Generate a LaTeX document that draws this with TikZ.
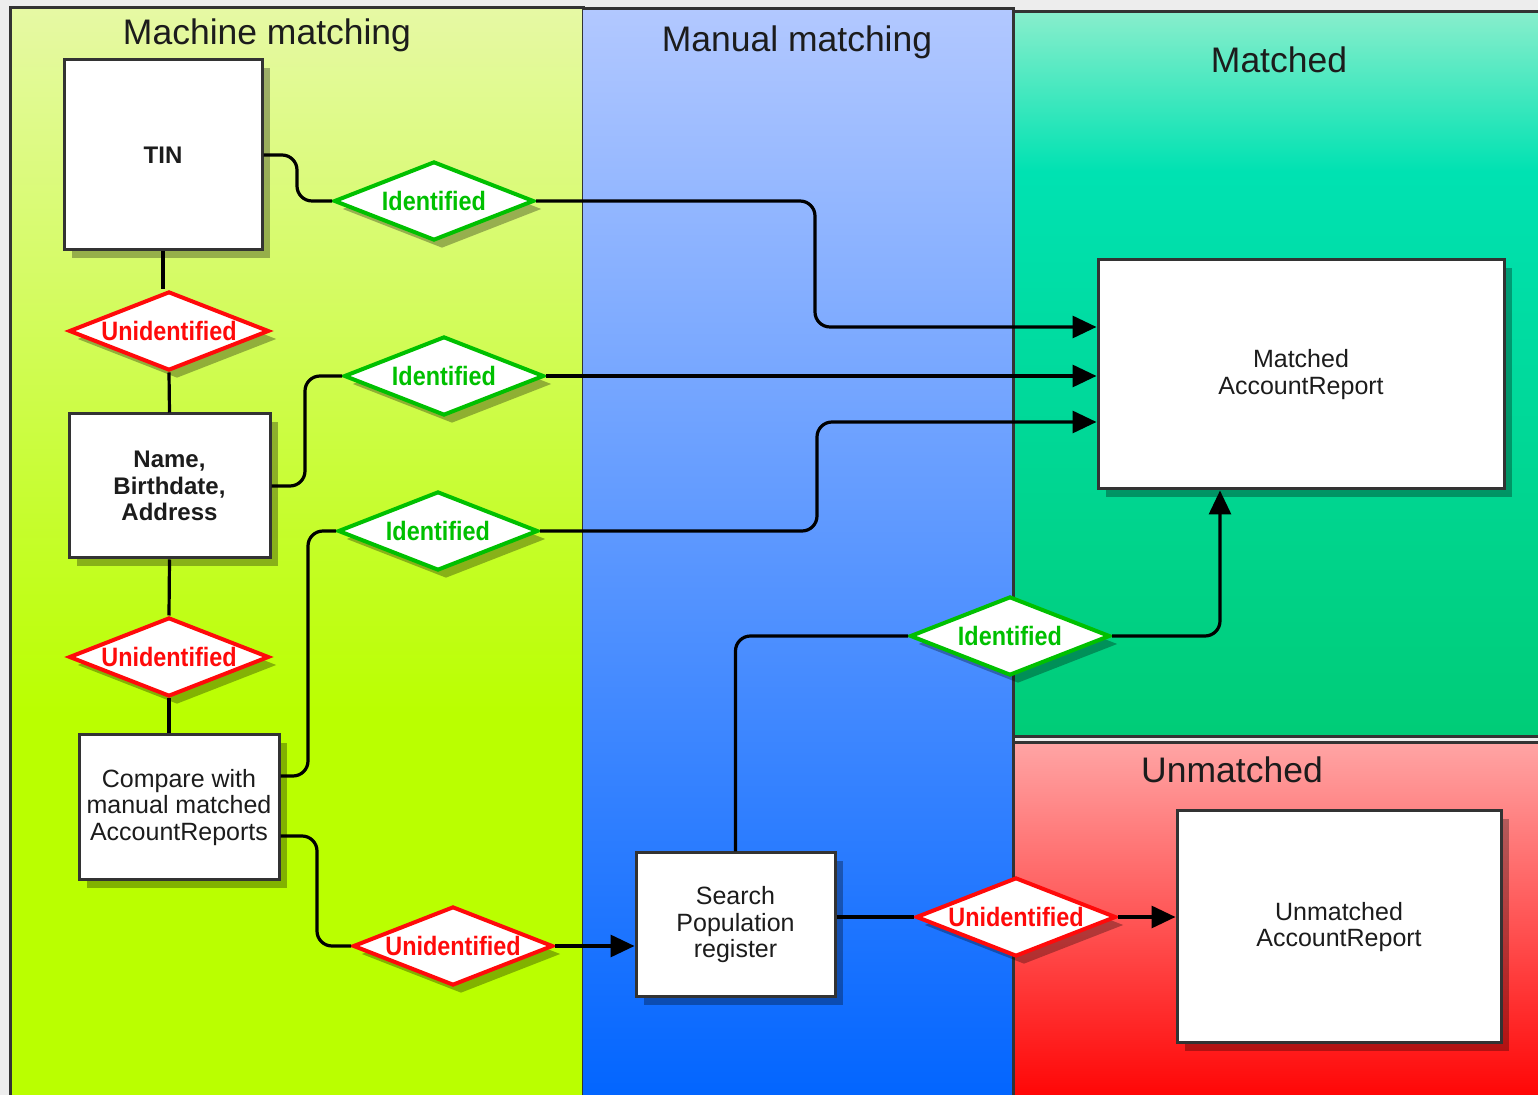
\documentclass[tikz,border=0pt]{standalone}
\usepackage{fontspec}
\setmainfont{Liberation Sans}
\newfontfamily\dfont[FakeStretch=0.88]{Liberation Sans}
\usetikzlibrary{shapes.geometric,arrows.meta,shadows}

\definecolor{mtop}{HTML}{E6F9A4}
\definecolor{mbot}{HTML}{BAFF00}
\definecolor{btop}{HTML}{B2C8FF}
\definecolor{bbot}{HTML}{0064FF}
\definecolor{gtop}{HTML}{88EECC}
\definecolor{gmid}{HTML}{00E2B2}
\definecolor{gbot}{HTML}{00CC77}
\definecolor{rtop}{HTML}{FFA4A4}
\definecolor{rbot}{HTML}{FF0000}
\definecolor{laneline}{HTML}{333333}
\definecolor{boxline}{HTML}{333333}
\definecolor{txt}{HTML}{1C1C1C}
\definecolor{okgreen}{HTML}{00C000}
\definecolor{nored}{HTML}{FF0A0A}
\definecolor{bgout}{HTML}{EDEDED}

\pgfdeclareverticalshading{machsh}{100bp}{color(0bp)=(mbot); color(25bp)=(mbot); color(43bp)=(mbot); color(75bp)=(mtop); color(100bp)=(mtop)}
\pgfdeclareverticalshading{mansh}{100bp}{color(0bp)=(bbot); color(25bp)=(bbot); color(75bp)=(btop); color(100bp)=(btop)}
\pgfdeclareverticalshading{matsh}{100bp}{color(0bp)=(gbot); color(25bp)=(gbot); color(64bp)=(gmid); color(75bp)=(gtop); color(100bp)=(gtop)}
\pgfdeclareverticalshading{unmsh}{100bp}{color(0bp)=(rbot); color(25bp)=(rbot); color(75bp)=(rtop); color(100bp)=(rtop)}

\tikzset{
  lane/.style={draw=laneline, line width=1.5pt},
  title/.style={font=\fontsize{17.75pt}{20pt}\selectfont, text=txt, inner sep=0pt},
  box/.style={rectangle, draw=boxline, line width=1.5pt, fill=white, inner sep=2pt,
    align=center, text=txt, font=\fontsize{12.5pt}{13.25pt}\selectfont,
    drop shadow={shadow xshift=4pt, shadow yshift=-4pt, fill=black, opacity=0.3}},
  boldbox/.style={box, font=\bfseries\fontsize{12pt}{13.25pt}\selectfont},
  dia/.style={diamond, aspect=2.5, line width=2pt, fill=white, inner sep=0pt,
    minimum width=100pt, minimum height=39.5pt,
    font=\dfont\bfseries\fontsize{13.3pt}{14pt}\selectfont,
    drop shadow={shadow xshift=4pt, shadow yshift=-4pt, fill=black, opacity=0.3}},
  yes/.style={dia, draw=okgreen, text=okgreen},
  no/.style={dia, draw=nored, text=nored},
  conn/.style={draw=black, line width=1.6pt, rounded corners=7.5pt},
  arr/.style={conn, -{Triangle[length=12pt,width=11pt]}}
}

\begin{document}
\begin{tikzpicture}[x=0.5pt, y=-0.5pt]
\useasboundingbox (0,0) rectangle (1538,1095);
\fill[bgout] (0,0) rectangle (1538,1095);

% lanes
\fill[shading=machsh] (10,8) rectangle (583,1110);
\draw[lane] (10,1110) -- (10,8) -- (583,8) -- (583,1110);
\fill[shading=mansh] (583,9) rectangle (1013,1110);
\draw[lane] (583,9) -- (1013,9) -- (1013,1110);
\fill[shading=matsh] (1013,12) rectangle (1550,737);
\draw[lane] (1013,737) -- (1013,12) -- (1550,12);
\draw[lane] (1013,737) -- (1550,737);
\fill[shading=unmsh] (1013,743) rectangle (1550,1110);
\draw[lane] (1013,1110) -- (1013,743) -- (1550,743);

% titles
\node[title] (tmach) at (267,35) {Machine matching};
\node[title] (tman) at (797,42) {Manual matching};
\node[title] (tmat) at (1279,60) {Matched};
\node[title] (tunm) at (1232,770) {Unmatched};

% boxes
\node[boldbox, minimum width=99pt, minimum height=95pt] (tin) at (163,155) {TIN};
\node[boldbox, minimum width=100.5pt, minimum height=72pt] (nam) at (169.5,486) {Name,\\Birthdate,\\Address};
\node[box, minimum width=100pt, minimum height=72.5pt] (cmp) at (179,807.5) {Compare with\\manual matched\\AccountReports};
\node[box, minimum width=99.5pt, minimum height=72pt] (srch) at (735.5,925) {Search\\Population\\register};
\node[box, minimum width=203pt, minimum height=114.5pt] (mar) at (1301,374.5) {Matched\\AccountReport};
\node[box, minimum width=162pt, minimum height=116pt] (umr) at (1339,927) {Unmatched\\AccountReport};

% decisions
\node[yes] (d1) at (434,201) {Identified};
\node[no]  (u1) at (169,331) {Unidentified};
\node[yes] (d2) at (444,376) {Identified};
\node[yes] (d3) at (438,531) {Identified};
\node[no]  (u2) at (169,657) {Unidentified};
\node[no]  (u3) at (453,946) {Unidentified};
\node[yes] (d4) at (1010,636) {Identified};
\node[no]  (u4) at (1016,917) {Unidentified};

% junction coordinates
\coordinate (j0) at (297,0);
\coordinate (j1) at (815,0);
\coordinate (j2) at (305,0);
\coordinate (j3) at (308,0);
\coordinate (j4) at (817,0);
\coordinate (j5) at (317,0);
\coordinate (in1) at ([yshift=23.75pt]mar.west);
\coordinate (in3) at ([yshift=-23.75pt]mar.west);
\coordinate (in4) at ([xshift=-40.5pt]mar.south);
\coordinate (c1) at ([yshift=15.75pt]cmp.east);
\coordinate (c2) at ([yshift=-14.25pt]cmp.east);

% connectors
\draw[conn] (tin.east) -| (j0 |- d1.west) -- (d1.west);
\draw[arr] (d1.east) -| (j1 |- in1) -- (in1);
\draw[conn] (tin.south) -- (tin.south |- u1.north);
\draw[conn] (u1.south) -- (nam.north);
\draw[conn] (nam.east) -| (j2 |- d2.west) -- (d2.west);
\draw[arr] (d2.east) -- (d2.east -| mar.west);
\draw[conn] (nam.south) -- (u2.north);
\draw[conn] (u2.south) -- (u2.south |- cmp.north);
\draw[conn] (c1) -| (j3 |- d3.west) -- (d3.west);
\draw[arr] (d3.east) -| (j4 |- in3) -- (in3);
\draw[conn] (c2) -| (j5 |- u3.west) -- (u3.west);
\draw[arr] (u3.east) -- (u3.east -| srch.west);
\draw[conn] (srch.north) |- (d4.west);
\draw[arr] (d4.east) -| (in4);
\draw[conn] (u4.west -| srch.east) -- (u4.west);
\draw[arr] (u4.east) -- (u4.east -| umr.west);
\end{tikzpicture}
\end{document}
